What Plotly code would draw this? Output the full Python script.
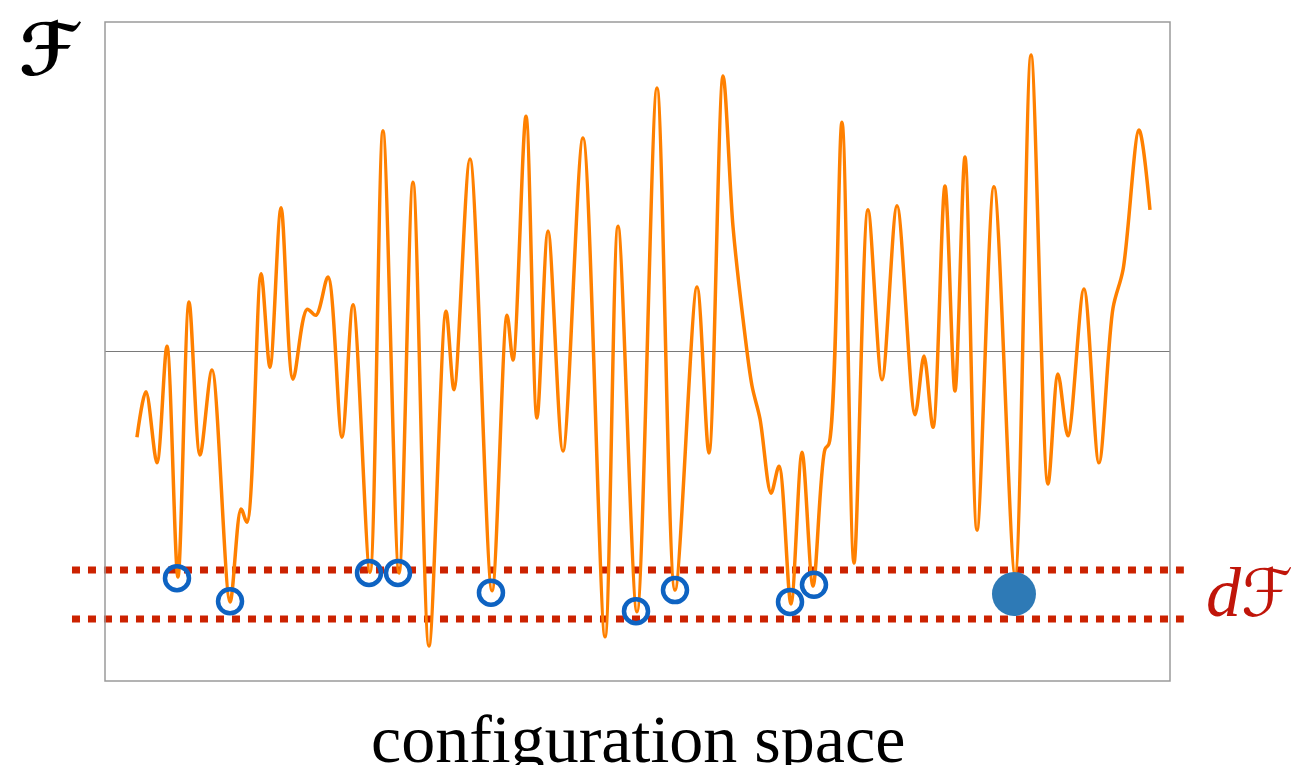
import plotly.graph_objects as go

# Free-energy landscape (x: configuration coordinate 0-100, F: 0-10)
curve_x = [3.00, 3.85, 4.88, 5.82, 6.85, 7.89, 8.92, 10.05, 11.74, 12.77, 13.33, 14.65, 15.49, 16.53,
           17.65, 18.97, 19.81, 20.94, 22.25, 23.29, 24.88, 26.10, 27.61, 28.92, 30.42, 32.02, 32.77,
           34.27, 36.34, 37.75, 38.31, 39.53, 40.56, 41.60, 43.00, 44.88, 46.95, 48.17, 49.95, 51.83,
           53.52, 55.59, 56.71, 58.03, 58.97, 59.91, 60.75, 61.50, 62.54, 63.29, 64.41, 65.45, 66.48,
           67.61, 67.98, 69.20, 70.33, 71.64, 72.96, 74.37, 76.06, 76.90, 77.75, 78.87, 79.81, 80.75,
           81.88, 83.47, 85.45, 86.95, 88.54, 89.48, 90.42, 91.92, 93.33, 94.65, 95.59, 97.09, 98.12]
curve_F = [3.70, 4.39, 3.31, 5.08, 1.58, 5.75, 3.43, 4.72, 1.20, 2.61, 2.41, 6.18, 4.76, 7.18,
           4.58, 5.64, 5.55, 6.13, 3.70, 5.71, 1.65, 8.35, 1.64, 7.57, 0.53, 5.61, 4.42,
           7.92, 1.37, 5.55, 4.87, 8.57, 3.99, 6.83, 3.49, 8.24, 0.67, 6.90, 1.05, 9.00,
           1.38, 5.98, 3.46, 9.18, 6.89, 5.49, 4.48, 3.98, 2.85, 3.26, 1.17, 3.47, 1.44,
           3.52, 3.60, 8.48, 1.79, 7.15, 4.57, 7.21, 4.04, 4.93, 3.85, 7.51, 4.40, 7.95,
           2.29, 7.50, 1.62, 9.50, 2.99, 4.66, 3.72, 5.95, 3.31, 5.66, 6.24, 8.36, 7.15]

# Minima inside the dF band (open circles) and the global minimum (filled)
minima_x = [6.76, 11.74, 24.79, 27.51, 36.24, 49.86, 53.52, 64.32, 66.57]
minima_F = [1.56, 1.21, 1.64, 1.64, 1.34, 1.06, 1.38, 1.20, 1.46]
global_x = [85.35]
global_F = [1.32]

band_top = 1.684
band_bottom = 0.941
mid_level = 5.0

fig = go.Figure()

fig.add_trace(go.Scatter(
    x=curve_x, y=curve_F, mode="lines",
    line=dict(color="#FF8000", width=3.5, shape="spline", smoothing=0.9),
    hoverinfo="skip", showlegend=False))

fig.add_trace(go.Scatter(
    x=minima_x, y=minima_F, mode="markers",
    marker=dict(symbol="circle-open", size=24, color="#0E63C2", line=dict(width=4.5, color="#0E63C2")),
    showlegend=False))

fig.add_trace(go.Scatter(
    x=global_x, y=global_F, mode="markers",
    marker=dict(symbol="circle", size=44, color="#2E7AB6", line=dict(width=0)),
    showlegend=False))

shapes = [
    dict(type="line", xref="paper", yref="y", x0=0, x1=1, y0=mid_level, y1=mid_level,
         line=dict(color="#7a7a7a", width=1), layer="below"),
    dict(type="line", xref="paper", yref="y", x0=-0.031, x1=1.013, y0=band_top, y1=band_top,
         line=dict(color="#CC2200", width=7, dash="8px,8px"), layer="below"),
    dict(type="line", xref="paper", yref="y", x0=-0.031, x1=1.013, y0=band_bottom, y1=band_bottom,
         line=dict(color="#CC2200", width=7, dash="8px,8px"), layer="below"),
    dict(type="rect", xref="paper", yref="paper", x0=0, x1=1, y0=0, y1=1,
         line=dict(color="#9a9a9a", width=1.5)),
]

annotations = [
    dict(text="<b>ℱ</b>", xref="paper", yref="paper", x=-0.051, y=0.958, showarrow=False,
         font=dict(family="DejaVu Sans", size=72, color="black"), xanchor="center", yanchor="middle"),
    dict(text="<i><span style='font-family:Liberation Serif;font-size:70px'>d</span></i>ℱ",
         xref="paper", yref="y", x=1.075, y=1.34, showarrow=False,
         font=dict(family="DejaVu Sans", size=66, color="#C0150A"), xanchor="center", yanchor="middle"),
    dict(text="configuration space", xref="paper", yref="paper", x=0.5, y=-0.088, showarrow=False,
         font=dict(family="Liberation Serif", size=68, color="black"), xanchor="center", yanchor="middle"),
]

# page body has an 8px margin, so the figure is sized/offset to land the plot at the reference spot
fig.update_layout(
    width=1297, height=757,
    margin=dict(l=97, r=135, t=14, b=84),
    paper_bgcolor="white", plot_bgcolor="white",
    xaxis=dict(range=[0, 100], showgrid=False, zeroline=False, showticklabels=False, ticks="", showline=False),
    yaxis=dict(range=[0, 10], showgrid=False, zeroline=False, showticklabels=False, ticks="", showline=False),
    shapes=shapes, annotations=annotations, showlegend=False,
)

fig.write_html("out.html")
